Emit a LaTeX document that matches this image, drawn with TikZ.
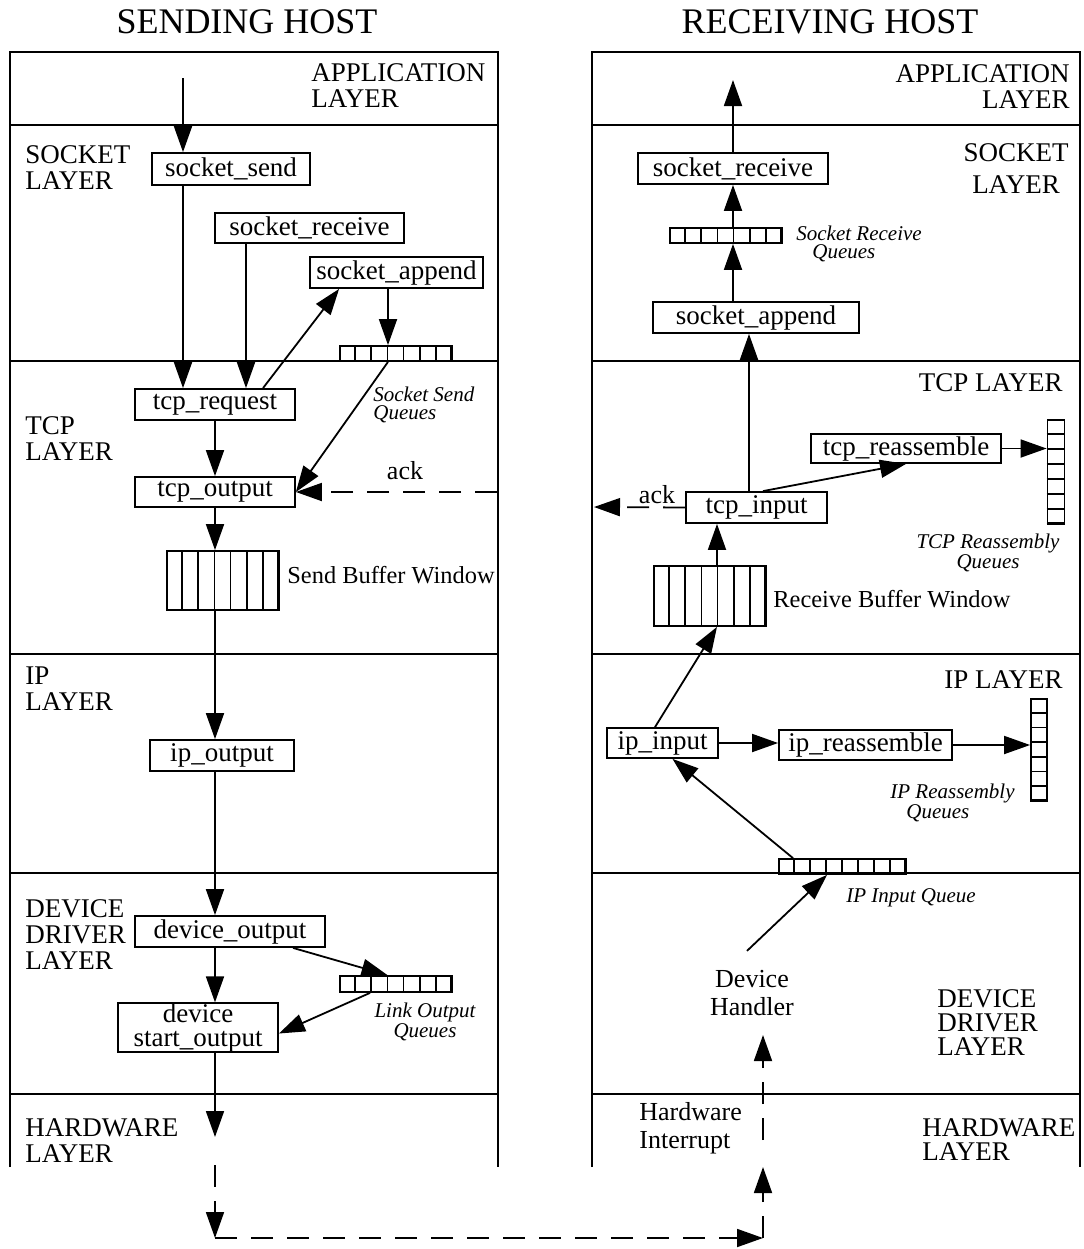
\documentclass[tikz,border=0pt]{standalone}
\usepackage{fontspec}
\setmainfont{Liberation Serif}
\usetikzlibrary{arrows.meta, calc}

\begin{document}
\begin{tikzpicture}[
    x=0.5pt, y=-0.5pt,
    box/.style={draw, line width=0.9pt, inner sep=0pt, font=\fontsize{13.5}{14}\selectfont},
    queue/.style={draw, line width=0.9pt, inner sep=0pt},
    layer/.style={inner sep=0pt, font=\fontsize{13.5}{13}\selectfont},
    qlabel/.style={inner sep=0pt, font=\fontsize{10.5}{9}\selectfont\itshape},
    note/.style={inner sep=0pt, font=\fontsize{13}{14}\selectfont},
    title/.style={inner sep=0pt, font=\fontsize{18}{20}\selectfont},
    flow/.style={line width=0.9pt, -{Triangle[length=13pt,width=9pt]}},
    signal/.style={flow, dash pattern=on 11pt off 7pt}
  ]
  \useasboundingbox (0,0) rectangle (1083,1249);

  % host frames and layer borders
  \draw[line width=1pt] (10,1167) |- (498,52) -- (498,1167);
  \draw[line width=1pt] (592,1167) |- (1080,52) -- (1080,1167);
  \foreach \y in {125,361,654,873,1094} {
    \draw[line width=1pt] (10,\y) -- (498,\y);
    \draw[line width=1pt] (592,\y) -- (1080,\y);
  }

  \node[title] (sendhost) at (247,22) {SENDING HOST};
  \node[title] (recvhost) at (830,22) {RECEIVING HOST};

  \node[layer, anchor=west, align=left] (lapp) at (311,86) {APPLICATION\\LAYER};
  \node[layer, anchor=west, align=left] (lsock) at (25,168) {SOCKET\\LAYER};
  \node[layer, anchor=west, align=left] (ltcp) at (25,439) {TCP\\LAYER};
  \node[layer, anchor=west, align=left] (lip) at (25,689) {IP\\LAYER};
  \node[layer, anchor=west, align=left] (ldev) at (25,935) {DEVICE\\DRIVER\\LAYER};
  \node[layer, anchor=west, align=left] (lhw) at (25,1141) {HARDWARE\\LAYER};

  \node[layer, anchor=east, align=right] (rapp) at (1070,87) {APPLICATION\\LAYER};
  \node[layer, align=center] (rsock) at (1016,169) {SOCKET\\[3pt]LAYER};
  \node[layer, anchor=east] (rtcp) at (1063,383) {TCP LAYER};
  \node[layer, anchor=east] (rip) at (1063,680) {IP LAYER};
  \node[layer, anchor=west, align=left, font=\fontsize{13.5}{12}\selectfont] (rdev) at (937,1023) {DEVICE\\DRIVER\\LAYER};
  \node[layer, anchor=west, align=left, font=\fontsize{13.5}{12}\selectfont] (rhw) at (922,1140) {HARDWARE\\LAYER};

  \node[note, anchor=west, align=left] (hwint) at (639,1128) {Hardware\\Interrupt};
  \node[note, align=center] (handler) at (752,993) {Device\\Handler};
  \node[note, anchor=west, font=\fontsize{12.2}{14}\selectfont] (sendwinl) at (287,575) {Send Buffer Window};
  \node[note, anchor=west, font=\fontsize{12.2}{14}\selectfont] (recvwinl) at (773,599) {Receive Buffer Window};
  \node[note] (ackl) at (405,471) {ack};
  \node[note] (ackr) at (657,495) {ack};

  \node[qlabel, anchor=west, align=left] (sendql) at (373,405) {Socket Send\\Queues};
  \node[qlabel, align=center] (linkql) at (425,1022) {Link Output\\Queues};
  \node[qlabel, anchor=west, align=left] (rsockql) at (796,244) {Socket Receive\\\hspace{8pt}Queues};
  \node[qlabel, align=center] (tcpql) at (988,553) {TCP Reassembly\\Queues};
  \node[qlabel, anchor=west, align=left] (ipql) at (890,803) {IP Reassembly\\\hspace{8pt}Queues};
  \node[qlabel] (ipinql) at (911,898) {IP Input Queue};

  \node[box, minimum width=79pt, minimum height=16pt] (ssend) at (231,169) {socket\_send};
  \node[box, minimum width=94.5pt, minimum height=15pt] (srecv) at (309.5,228) {socket\_receive};
  \node[box, minimum width=86.5pt, minimum height=15.5pt] (sappend) at (396.5,272.5) {socket\_append};
  \node[queue, minimum width=55.5pt, minimum height=7.5pt] (sendq) at (395.5,353.5) {};
  \node[box, minimum width=80pt, minimum height=15.5pt] (tcpreq) at (215,404.5) {tcp\_request};
  \node[box, minimum width=80pt, minimum height=15pt] (tcpout) at (215,492) {tcp\_output};
  \node[queue, minimum width=55.5pt, minimum height=29.5pt] (sendwin) at (222.5,580.5) {};
  \node[box, minimum width=72pt, minimum height=15.5pt] (ipout) at (222,755.5) {ip\_output};
  \node[box, minimum width=95pt, minimum height=15.5pt] (devout) at (230,931.5) {device\_output};
  \node[queue, minimum width=55.5pt, minimum height=8pt] (linkq) at (395.5,984) {};
  \node[box, minimum width=80pt, minimum height=24pt, align=center, font=\fontsize{13.5}{12}\selectfont] (devstart) at (198,1027.5) {device\\start\_output};

  \node[box, minimum width=95pt, minimum height=15.5pt] (rsrecv) at (733,168.5) {socket\_receive};
  \node[queue, minimum width=55.5pt, minimum height=7.5pt] (rsockq) at (725.5,235.5) {};
  \node[box, minimum width=103pt, minimum height=15.5pt] (rsappend) at (756,317.5) {socket\_append};
  \node[box, minimum width=95pt, minimum height=14.5pt] (tcpreas) at (906,448.5) {tcp\_reassemble};
  \node[box, minimum width=70.5pt, minimum height=15.5pt] (tcpin) at (756.5,507.5) {tcp\_input};
  \node[queue, minimum width=8.5pt, minimum height=51.5pt] (tcpq) at (1056,471.5) {};
  \node[queue, minimum width=55.5pt, minimum height=30pt] (recvwin) at (709.5,596) {};
  \node[box, minimum width=55.5pt, minimum height=15pt] (ipin) at (662.5,743) {ip\_input};
  \node[box, minimum width=86.5pt, minimum height=15pt] (ipreas) at (865.5,745) {ip\_reassemble};
  \node[queue, minimum width=8pt, minimum height=50.5pt] (ipq) at (1039,749.5) {};
  \node[queue, minimum width=63pt, minimum height=7.5pt] (ipinq) at (842,866.5) {};

  % queue cells
  \foreach \q/\n in {sendq/7,sendwin/7,linkq/7,rsockq/7,recvwin/7,ipinq/8}
    \foreach \i in {1,...,\n}
      \draw[line width=0.9pt] ($(\q.north west)!\i/\n!(\q.north east)$) -- ($(\q.south west)!\i/\n!(\q.south east)$);
  \foreach \q in {tcpq,ipq}
    \foreach \i in {1,...,7}
      \draw[line width=0.9pt] ($(\q.north west)!\i/7!(\q.south west)$) -- ($(\q.north east)!\i/7!(\q.south east)$);

  \coordinate (appin) at (183,78);
  \coordinate (rcvx) at (246,0);
  \coordinate (qx) at (388,0);
  \coordinate (ackin) at (497,492);
  \coordinate (hwout) at (215,1137);
  \coordinate (hwa) at (215,1165);
  \coordinate (hwb) at (215,1238);
  \coordinate (hwc) at (763,1238);
  \coordinate (hwd) at (763,1167);
  \coordinate (hwe) at (763,1140);
  \coordinate (hwf) at (763,1035);
  \coordinate (appout) at (733,80);
  \coordinate (upx) at (749,0);
  \coordinate (winx) at (717,0);
  \coordinate (ackout) at (594,507);

  % sending side
  \draw[flow] (appin) -- (ssend.north -| appin);
  \draw[flow] (ssend.south -| appin) -- (tcpreq.north -| appin);
  \draw[flow] (srecv.south -| rcvx) -- (tcpreq.north -| rcvx);
  \draw[flow] ([xshift=24pt]tcpreq.north) -- ([xshift=15pt]sappend.south west);
  \draw[flow] (sappend.south -| qx) -- (sendq.north -| qx);
  \draw[flow] (sendq.south -| qx) -- (tcpout.east);
  \draw[flow] (tcpreq) -- (tcpout);
  \draw[flow] (tcpout.south) -- (sendwin.north -| tcpout);
  \draw[flow] (sendwin.south -| tcpout) -- (ipout.north -| tcpout);
  \draw[flow] (ipout.south -| tcpout) -- (devout.north -| tcpout);
  \draw[flow] (devout.south -| tcpout) -- (devstart.north -| tcpout);
  \draw[flow] ([xshift=31.5pt]devout.south) -- ([xshift=-4pt]linkq.north);
  \draw[flow] ([xshift=-12.75pt]linkq.south) -- ([yshift=-3pt]devstart.east);
  \draw[flow] (devstart.south -| tcpout) -- (hwout);
  \draw[signal] (ackin) -- (tcpout.east);
  \draw[signal] (hwa) -- (hwb);
  \draw[signal] (hwb) -- (hwc);
  \draw[signal] (hwc) -- (hwd);
  \draw[signal] (hwe) -- (hwf);

  % receiving side
  \draw[flow] (rsrecv) -- (appout);
  \draw[flow] (rsockq.north -| rsrecv) -- (rsrecv);
  \draw[flow] (rsappend.north -| rsrecv) -- (rsockq.south -| rsrecv);
  \draw[flow] (tcpin.north -| upx) -- (rsappend.south -| upx);
  \draw[flow] ([xshift=3.25pt]tcpin.north) -- (tcpreas.south);
  \draw[flow] (tcpreas.east) -- (tcpq.west |- tcpreas.east);
  \draw[signal] (tcpin.west) -- (ackout);
  \draw[flow] (recvwin.north -| winx) -- (tcpin.south -| winx);
  \draw[flow] ([xshift=-3.75pt]ipin.north) -- (recvwin.south -| winx);
  \draw[flow] (ipin.east) -- (ipreas.west |- ipin.east);
  \draw[flow] (ipreas.east) -- (ipq.west |- ipreas.east);
  \draw[flow] ([xshift=-24.5pt]ipinq.north) -- ([xshift=5pt]ipin.south);
  \draw[flow] ([shift={(-2.5pt,9.5pt)}]handler.north) -- ([xshift=-7.5pt]ipinq.south);
\end{tikzpicture}
\end{document}
